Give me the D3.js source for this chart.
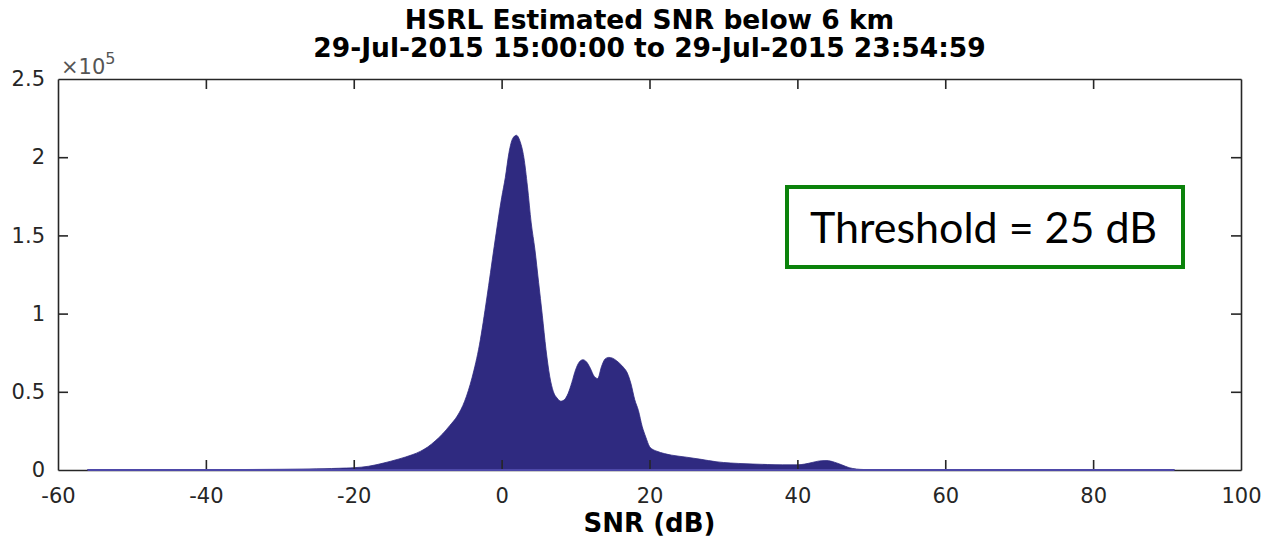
<!DOCTYPE html>
<html>
<head>
<meta charset="utf-8">
<script src="https://cdn.jsdelivr.net/npm/d3@7"></script>
<style>
  html, body { margin: 0; padding: 0; background: #fff; }
  svg { display: block; }
</style>
</head>
<body>
<svg id="chart" width="1268" height="541"></svg>
<script>
// ---- data ----
const titleLines = ["HSRL Estimated SNR below 6 km", "29-Jul-2015 15:00:00 to 29-Jul-2015 23:54:59"];
const xLabel = "SNR (dB)";
const annotation = "Threshold = 25 dB";
const xTicks = [-60, -40, -20, 0, 20, 40, 60, 80, 100];
const xTickLabels = ["-60", "-40", "-20", "0", "20", "40", "60", "80", "100"];
const yTicks = [0, 50000, 100000, 150000, 200000, 250000];
const yTickLabels = ["0", "0.5", "1", "1.5", "2", "2.5"];
const snrBins = [-56, -50, -45, -40, -35, -30, -27, -25, -23, -22, -21, -20, -19, -18, -17, -16, -15, -14, -13, -12, -11, -10, -9, -8, -7, -6, -5, -4, -3, -2, -1, 0, 0.5, 1, 1.5, 2, 2.5, 3, 3.5, 4, 4.5, 5, 5.5, 6, 6.5, 7, 7.5, 8, 8.5, 9, 9.5, 10, 10.5, 11, 11.5, 12, 12.5, 13, 13.5, 14, 14.5, 15, 15.5, 16, 16.5, 17, 17.5, 18, 18.5, 19, 19.5, 20, 20.5, 21, 22, 23, 24, 25, 26, 27, 28, 29, 30, 32, 34, 36, 38, 40, 41, 42, 43, 44, 45, 46, 47, 48, 49, 50, 55, 60, 70, 80, 91];
const counts = [100, 100, 150, 200, 300, 450, 600, 750, 950, 1100, 1250, 1450, 1800, 2400, 3300, 4400, 5600, 6900, 8300, 9900, 11900, 14700, 18500, 23000, 28500, 34500, 44000, 59000, 80000, 110000, 143000, 174000, 187000, 203000, 212000, 214000, 210000, 200000, 181000, 158000, 141000, 120000, 99000, 77000, 60000, 50000, 46000, 44000, 45000, 49000, 56000, 64000, 69000, 70500, 69000, 65000, 60000, 58500, 66000, 71000, 72000, 71500, 70000, 68000, 65500, 62000, 55000, 45000, 38000, 28000, 21000, 15000, 13000, 12000, 10500, 9500, 8800, 8200, 7500, 6800, 6000, 5300, 4800, 4200, 3800, 3500, 3300, 3300, 3800, 4800, 5800, 6000, 5000, 3300, 1500, 600, 300, 200, 100, 50, 30, 20, 10];

// ---- layout ----
const svg = d3.select("#chart");
const L = 58, R = 1241, T = 79, B = 470;
const x = d3.scaleLinear().domain([-60, 100]).range([L, R]);
const y = d3.scaleLinear().domain([0, 250000]).range([B, T]);
const axisColor = "#262626";
const font = "'DejaVu Sans', sans-serif";

svg.append("rect").attr("width", 1268).attr("height", 541).attr("fill", "#fff");

// histogram area
const pts = snrBins.map((s, i) => [s, counts[i]]);
const area = d3.area().x(d => x(d[0])).y0(y(0)).y1(d => y(d[1])).curve(d3.curveMonotoneX);
svg.append("path").datum(pts).attr("d", area).attr("fill", "#2f2a80").attr("stroke", "#2f2a80").attr("stroke-width", 0.8);

// axes (box with inward ticks on all sides)
const tickLen = 10;
const gB = svg.append("g").attr("transform", `translate(0,${B})`)
  .call(d3.axisBottom(x).tickValues(xTicks).tickSizeInner(-tickLen).tickSizeOuter(0).tickPadding(18)
    .tickFormat((d, i) => xTickLabels[i]));
const gT = svg.append("g").attr("transform", `translate(0,${T})`)
  .call(d3.axisTop(x).tickValues(xTicks).tickSizeInner(-tickLen).tickSizeOuter(0).tickFormat(""));
const gL = svg.append("g").attr("transform", `translate(${L},0)`)
  .call(d3.axisLeft(y).tickValues(yTicks).tickSizeInner(-tickLen).tickSizeOuter(0).tickPadding(13)
    .tickFormat((d, i) => yTickLabels[i]));
const gR = svg.append("g").attr("transform", `translate(${R},0)`)
  .call(d3.axisRight(y).tickValues(yTicks).tickSizeInner(-tickLen).tickSizeOuter(0).tickFormat(""));
[gB, gT, gL, gR].forEach(g => {
  g.select(".domain").attr("stroke", axisColor).attr("stroke-width", 1.6);
  g.selectAll(".tick line").attr("stroke", axisColor).attr("stroke-width", 1.6);
  g.selectAll(".tick text").attr("fill", axisColor).style("font-family", font).style("font-size", "21px");
});
// hide ticks at box corners
gB.selectAll(".tick line").filter(d => d === -60 || d === 100).remove();
gT.selectAll(".tick line").filter(d => d === -60 || d === 100).remove();
gL.selectAll(".tick line").filter(d => d === 0 || d === 250000).remove();
gR.selectAll(".tick line").filter(d => d === 0 || d === 250000).remove();

// baseline of histogram (bin edges drawn along zero)
svg.append("line")
  .attr("x1", x(snrBins[0])).attr("x2", x(snrBins[snrBins.length - 1]))
  .attr("y1", y(0)).attr("y2", y(0))
  .attr("stroke", "#4d48a8").attr("stroke-width", 2);

// exponent label
const ex = svg.append("text").attr("x", 61).attr("y", 74)
  .attr("fill", "#555").style("font-family", font).style("font-size", "21px");
ex.append("tspan").text("\u00d710");
ex.append("tspan").attr("dy", -10).style("font-size", "16px").text("5");

// title
svg.selectAll("text.title").data(titleLines).enter().append("text")
  .attr("class", "title")
  .attr("x", (L + R) / 2).attr("y", (d, i) => 29 + i * 28)
  .attr("text-anchor", "middle").attr("fill", "#000")
  .style("font-family", font).style("font-weight", "bold").style("font-size", "26.5px")
  .text(d => d);

// x label
svg.append("text").attr("x", (L + R) / 2).attr("y", 532)
  .attr("text-anchor", "middle").attr("fill", "#000")
  .style("font-family", font).style("font-weight", "bold").style("font-size", "26px")
  .text(xLabel);

// threshold annotation box
svg.append("rect").attr("x", 787).attr("y", 187).attr("width", 396).attr("height", 80)
  .attr("fill", "#fff").attr("stroke", "#0b820b").attr("stroke-width", 4);
svg.append("text").attr("x", 810).attr("y", 243)
  .attr("textLength", 347).attr("lengthAdjust", "spacingAndGlyphs")
  .attr("fill", "#000").style("font-family", "Lato, 'Open Sans', sans-serif").style("font-size", "42px")
  .text(annotation);
</script>
</body>
</html>
